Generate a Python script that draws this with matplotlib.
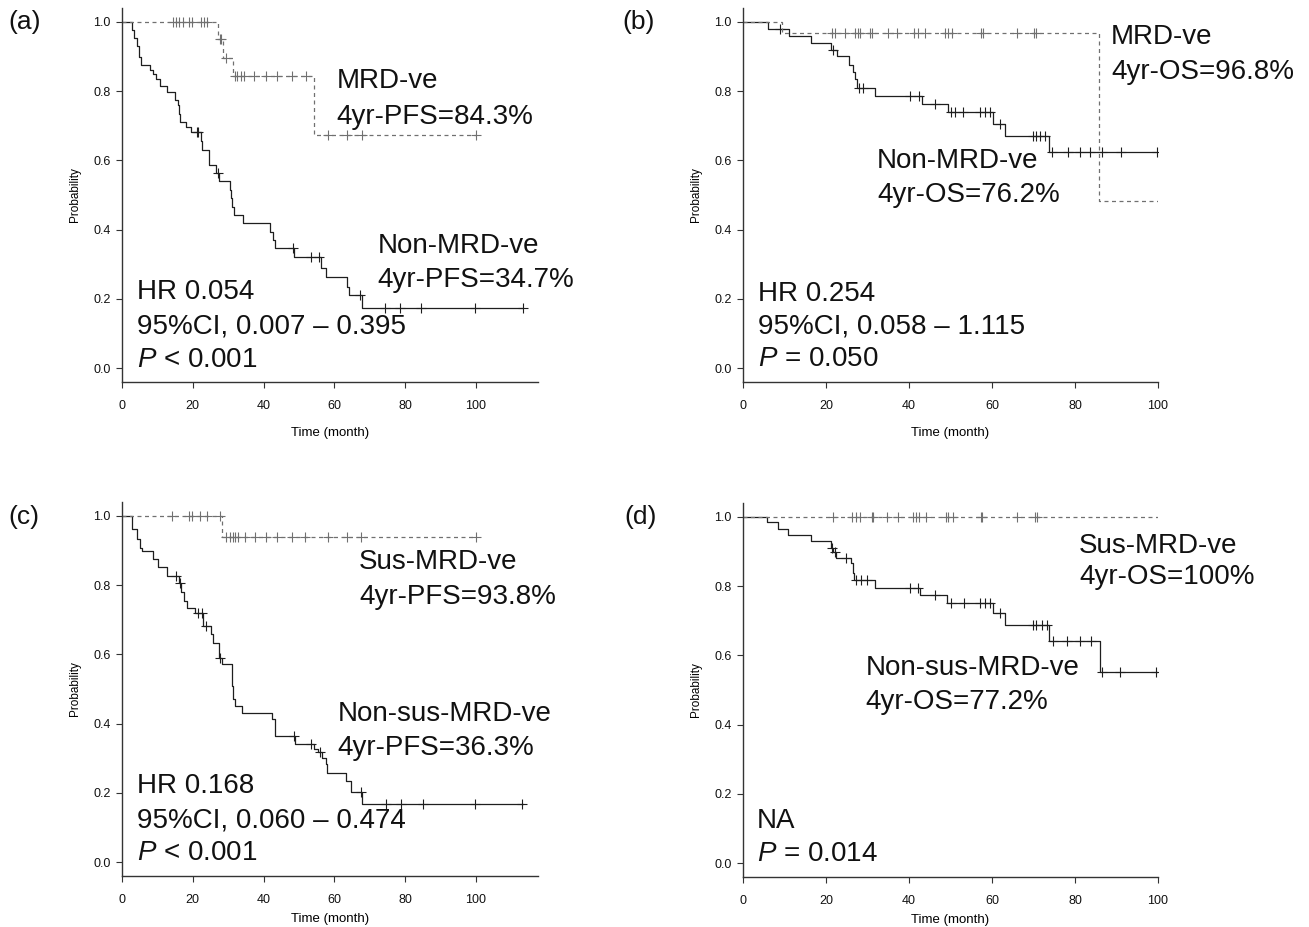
import numpy as np
import matplotlib
matplotlib.use('Agg')
import matplotlib.pyplot as plt

plt.rcParams['font.family'] = ['Liberation Sans', 'DejaVu Sans']
plt.rcParams['mathtext.fontset'] = 'custom'
plt.rcParams['mathtext.it'] = 'Liberation Sans:italic'
plt.rcParams['mathtext.rm'] = 'Liberation Sans'

# ---- (a) PFS by MRD status ----
a_neg_t = [27.1, 28.5, 31.4, 54.1]
a_neg_s = [0.950, 0.897, 0.843, 0.673]
a_neg_end = 100.0
a_neg_cens = [14.3, 15.2, 16.1, 17.1, 19.0, 19.9, 22.2, 23.1, 24.0, 27.6, 27.9, 29.5,
              31.8, 32.6, 33.5, 34.5, 37.3, 40.6, 43.9, 48.1, 52.0, 58.1, 63.5, 67.7, 99.9]
a_pos_t = [2.9, 3.5, 4.1, 4.7, 5.4, 8.0, 8.7, 9.5, 10.6, 12.7, 15.0, 15.8, 16.1, 16.4,
           18.1, 19.5, 22.3, 22.6, 24.7, 26.6, 27.5, 30.5, 30.8, 31.0, 31.5, 34.2, 41.7,
           42.6, 43.1, 48.5, 56.2, 57.7, 63.5, 64.2, 67.7]
a_pos_s = [0.977, 0.953, 0.930, 0.898, 0.874, 0.860, 0.848, 0.835, 0.816, 0.797, 0.773,
           0.759, 0.735, 0.711, 0.697, 0.682, 0.656, 0.630, 0.587, 0.563, 0.539, 0.515,
           0.490, 0.466, 0.442, 0.418, 0.394, 0.370, 0.346, 0.322, 0.288, 0.264, 0.235,
           0.211, 0.175]
a_pos_end = 113.3
a_pos_cens = [21.2, 21.6, 27.2, 48.3, 53.4, 55.6, 67.2, 74.2, 78.5, 84.4, 99.6, 113.3]

# ---- (b) OS by MRD status ----
b_neg_t = [9.5, 85.8]
b_neg_s = [0.968, 0.484]
b_neg_end = 100.0
b_neg_cens = [21.5, 22.1, 24.6, 26.9, 27.7, 28.1, 30.6, 31.2, 34.9, 37.1, 41.1, 42.1,
              43.8, 48.6, 49.5, 50.3, 57.4, 57.8, 66.0, 70.1, 70.6]
b_pos_t = [6.0, 11.0, 16.4, 21.3, 22.6, 25.6, 26.5, 27.0, 27.4, 31.8, 43.1, 49.3, 60.2,
           63.2, 73.7]
b_pos_s = [0.980, 0.960, 0.940, 0.920, 0.900, 0.875, 0.855, 0.834, 0.810, 0.786, 0.763,
           0.739, 0.706, 0.671, 0.623]
b_pos_end = 100.0
b_pos_cens = [8.8, 21.7, 27.9, 28.9, 40.3, 42.5, 46.3, 50.0, 51.0, 53.0, 57.2, 58.2, 59.5,
              62.0, 69.8, 70.6, 71.6, 72.8, 74.4, 78.3, 81.1, 83.6, 86.4, 91.0, 99.7]

# ---- (c) PFS by sustained MRD status ----
c_neg_t = [28.2]
c_neg_s = [0.938]
c_neg_end = 100.0
c_neg_cens = [14.2, 18.8, 19.8, 22.1, 24.0, 27.6, 29.3, 30.4, 31.3, 32.0, 32.7, 34.8,
              37.7, 40.6, 43.9, 48.0, 51.8, 58.3, 63.6, 67.6, 100.0]
c_pos_t = [2.9, 4.3, 5.1, 5.6, 8.7, 10.3, 12.8, 16.2, 16.6, 17.5, 18.5, 20.5, 22.9, 25.1,
           25.6, 27.3, 28.2, 31.0, 31.2, 31.4, 31.8, 33.8, 42.3, 43.3, 49.0, 54.1, 55.4,
           56.4, 57.6, 58.0, 63.4, 64.6, 67.9]
c_pos_s = [0.963, 0.932, 0.908, 0.899, 0.875, 0.853, 0.826, 0.807, 0.780, 0.754, 0.735,
           0.720, 0.682, 0.658, 0.634, 0.590, 0.571, 0.540, 0.508, 0.470, 0.450, 0.431,
           0.412, 0.364, 0.341, 0.327, 0.317, 0.301, 0.282, 0.257, 0.233, 0.204, 0.168]
c_pos_end = 113.3
c_pos_cens = [15.2, 16.4, 21.5, 22.6, 23.6, 27.8, 48.7, 53.5, 55.9, 67.5, 74.6, 78.8,
              84.9, 99.8, 113.1]

# ---- (d) OS by sustained MRD status ----
d_neg_t = []
d_neg_s = []
d_neg_end = 100.0
d_neg_cens = [21.6, 26.3, 27.2, 28.3, 31.0, 31.3, 34.8, 37.4, 41.0, 41.6, 42.4, 44.0,
              48.9, 49.5, 50.6, 57.3, 57.7, 66.0, 70.4, 70.9]
d_pos_t = [5.9, 8.5, 10.9, 16.5, 21.2, 21.8, 22.5, 26.0, 26.4, 26.7, 31.7, 42.6, 49.2,
           60.2, 63.2, 73.7, 86.0]
d_pos_s = [0.984, 0.964, 0.947, 0.930, 0.911, 0.899, 0.882, 0.868, 0.839, 0.819, 0.795,
           0.774, 0.752, 0.723, 0.687, 0.641, 0.551]
d_pos_end = 100.0
d_pos_cens = [21.5, 22.1, 24.7, 27.3, 28.5, 29.9, 40.2, 42.2, 46.3, 50.1, 53.2, 57.1,
              58.4, 59.5, 61.9, 69.8, 70.5, 72.0, 73.3, 74.6, 78.1, 81.2, 83.8, 86.4,
              90.8, 99.6]

SOLID = '#1e1e1e'
DASHED = '#707070'


def draw_km(ax, t_ev, s_ev, t_end, cens, color, dashed):
    t_ev = np.asarray(t_ev, dtype=float)
    s_ev = np.asarray(s_ev, dtype=float)
    x = np.concatenate([[0.0], t_ev, [t_end]])
    levels = np.concatenate([[1.0], s_ev])
    y = np.concatenate([levels, [levels[-1]]])
    ls = (0, (3.2, 2.8)) if dashed else '-'
    ax.step(x, y, where='post', color=color, lw=0.9, ls=ls)
    # censor marks sit on the curve level at their time
    cens = np.asarray(cens, dtype=float)
    idx = np.searchsorted(t_ev, cens, side='right')
    ax.plot(cens, levels[idx], ls='none', marker='+', ms=7, mew=0.8, color=color)


def style_axes(ax, xmax, xpad):
    ax.set_xlim(0, xmax)
    ax.set_ylim(-0.04, 1.04)
    ax.spines['top'].set_visible(False)
    ax.spines['right'].set_visible(False)
    for s in ['left', 'bottom']:
        ax.spines[s].set_linewidth(1.0)
        ax.spines[s].set_color('#333333')
    ax.set_xticks(np.arange(0, 101, 20))
    ax.set_yticks(np.arange(0, 1.01, 0.2))
    ax.set_yticklabels(['%.1f' % v for v in np.arange(0, 1.01, 0.2)])
    ax.tick_params(axis='both', direction='out', length=4, width=0.8, colors='#333333',
                   labelsize=9, labelcolor='#111111')
    ax.tick_params(axis='x', pad=9)
    ax.tick_params(axis='y', pad=4)
    ax.set_xlabel('Time (month)', fontsize=9.5, labelpad=xpad)
    ax.set_ylabel('Probability', fontsize=8.5, labelpad=9)


fig = plt.figure(figsize=(13.09, 9.27), dpi=100)
W, H = 1309.0, 927.0


def add_panel(left, top, right, bottom):
    return fig.add_axes([left / W, 1 - bottom / H, (right - left) / W, (bottom - top) / H])


ax_a = add_panel(122, 8, 538, 382)
ax_b = add_panel(743, 8, 1158, 382)
ax_c = add_panel(122, 502, 538, 876)
ax_d = add_panel(743, 503, 1158, 877)

draw_km(ax_a, a_pos_t, a_pos_s, a_pos_end, a_pos_cens, SOLID, False)
draw_km(ax_a, a_neg_t, a_neg_s, a_neg_end, a_neg_cens, DASHED, True)
draw_km(ax_b, b_pos_t, b_pos_s, b_pos_end, b_pos_cens, SOLID, False)
draw_km(ax_b, b_neg_t, b_neg_s, b_neg_end, b_neg_cens, DASHED, True)
draw_km(ax_c, c_pos_t, c_pos_s, c_pos_end, c_pos_cens, SOLID, False)
draw_km(ax_c, c_neg_t, c_neg_s, c_neg_end, c_neg_cens, DASHED, True)
draw_km(ax_d, d_pos_t, d_pos_s, d_pos_end, d_pos_cens, SOLID, False)
draw_km(ax_d, d_neg_t, d_neg_s, d_neg_end, d_neg_cens, DASHED, True)

style_axes(ax_a, 117.5, 11)
style_axes(ax_b, 100, 11)
style_axes(ax_c, 117.5, 5)
style_axes(ax_d, 100, 5)

FS = 20


def put(ax, x, y, s):
    ax.text(x, y, s, fontsize=FS, ha='left', va='center', color='#111111', clip_on=False)


# (a)
put(ax_a, 60.6, 0.830, 'MRD-ve')
put(ax_a, 60.6, 0.725, '4yr-PFS=84.3%')
put(ax_a, 72.1, 0.353, 'Non-MRD-ve')
put(ax_a, 72.1, 0.255, '4yr-PFS=34.7%')
put(ax_a, 4.2, 0.220, 'HR 0.054')
put(ax_a, 4.2, 0.121, '95%CI, 0.007 \u2013 0.395')
put(ax_a, 4.2, 0.023, r'$\it{P}$ < 0.001')

# (b)
put(ax_b, 88.7, 0.957, 'MRD-ve')
put(ax_b, 88.7, 0.856, '4yr-OS=96.8%')
put(ax_b, 32.3, 0.599, 'Non-MRD-ve')
put(ax_b, 32.3, 0.500, '4yr-OS=76.2%')
put(ax_b, 3.5, 0.214, 'HR 0.254')
put(ax_b, 3.5, 0.121, '95%CI, 0.058 \u2013 1.115')
put(ax_b, 3.5, 0.026, r'$\it{P}$ = 0.050')

# (c)
put(ax_c, 67.0, 0.867, 'Sus-MRD-ve')
put(ax_c, 67.0, 0.766, '4yr-PFS=93.8%')
put(ax_c, 60.8, 0.428, 'Non-sus-MRD-ve')
put(ax_c, 60.8, 0.330, '4yr-PFS=36.3%')
put(ax_c, 4.2, 0.220, 'HR 0.168')
put(ax_c, 4.2, 0.121, '95%CI, 0.060 \u2013 0.474')
put(ax_c, 4.2, 0.026, r'$\it{P}$ < 0.001')

# (d)
put(ax_d, 81.0, 0.917, 'Sus-MRD-ve')
put(ax_d, 81.0, 0.825, '4yr-OS=100%')
put(ax_d, 29.5, 0.563, 'Non-sus-MRD-ve')
put(ax_d, 29.5, 0.464, '4yr-OS=77.2%')
put(ax_d, 3.3, 0.122, 'NA')
put(ax_d, 3.3, 0.025, r'$\it{P}$ = 0.014')

for lab, x, y in [('(a)', 8, 22), ('(b)', 622, 22), ('(c)', 8, 517), ('(d)', 624, 517)]:
    fig.text(x / W, 1 - y / H, lab, fontsize=19, ha='left', va='center', color='#111111')

fig.savefig('out.png', dpi=100)
